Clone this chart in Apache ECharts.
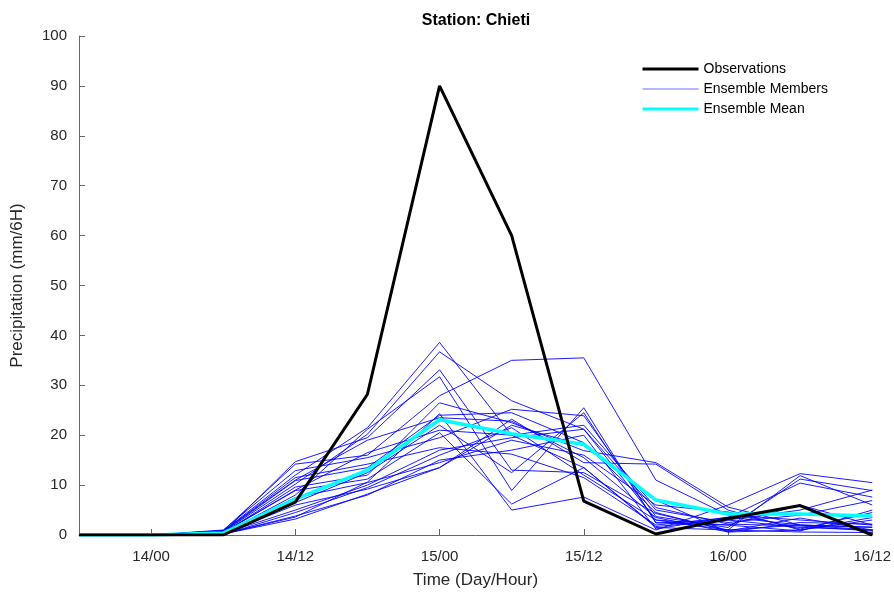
<!DOCTYPE html>
<html>
<head>
<meta charset="utf-8">
<script src="https://cdn.jsdelivr.net/npm/echarts@6/dist/echarts.min.js"></script>
<style>html,body{margin:0;padding:0;background:#fff}#c{width:894px;height:594px}</style>
</head>
<body>
<div id="c"></div>
<script>
const categories = ["13/18","14/00","14/06","14/12","14/18","15/00","15/06","15/12","15/18","16/00","16/06","16/12"];
const yTicks = [0,10,20,30,40,50,60,70,80,90,100];
const observations = [0,0,0,6.6,28.2,90,60,6.8,0.2,3.3,5.9,0];
const ensembleMean = [0,0,0.4,7.2,13,23.1,20.3,18.2,7,4.2,4.2,3.8];
const m01 = [0,0,0.8,12.0,21.5,38.6,20.0,13.5,1.5,1.0,2.0,1.0];
const m02 = [0,0,0.6,10.2,20.2,36.7,26.9,21.2,3.0,2.0,0.8,5.0];
const m03 = [0,0,0.5,14.7,19.5,33.1,13.0,12.5,4.3,1.0,11.9,6.0];
const m04 = [0,0,0.3,8.0,21.2,31.7,8.9,25.5,2.4,3.0,1.5,1.0];
const m05 = [0,0,0.9,14.2,16.0,27.9,35.0,35.5,11.0,4.0,3.0,2.0];
const m06 = [0,0,0.2,3.6,10.6,24.3,5.0,7.6,1.0,6.0,12.3,10.5];
const m07 = [0,0,0.4,9.6,12.0,26.5,22.5,16.9,14.5,5.6,2.0,1.6];
const m08 = [0,0,0.2,3.2,8.2,13.5,23.2,14.5,14.2,5.0,1.0,3.0];
const m09 = [0,0,1.0,12.9,15.5,19.5,25.2,23.9,3.7,1.5,11.2,8.9];
const m10 = [0,0,0.3,5.0,10.0,17.0,19.5,21.2,5.0,2.5,4.0,6.9];
const m11 = [0,0,0.7,11.5,14.2,17.5,16.2,11.5,2.0,3.5,10.4,7.6];
const m12 = [0,0,0.2,6.0,9.2,13.5,22.0,17.9,7.0,0.6,2.5,2.2];
const m13 = [0,0,0.5,8.9,11.2,20.5,6.2,13.5,1.7,3.0,5.0,9.0];
const m14 = [0,0,0.1,4.5,9.5,16.0,21.5,12.0,3.0,1.0,0.6,0.5];
const m15 = [0,0,0.6,10.9,13.5,24.0,24.5,18.5,4.5,0.8,3.4,1.0];
const m16 = [0,0,0.3,7.5,10.5,14.5,19.0,16.0,6.0,4.6,1.2,4.5];
const m17 = [0,0,0.4,6.5,12.5,22.0,12.5,24.5,2.5,2.0,6.0,2.0];
const m18 = [0,0,0.2,3.8,8.0,15.0,17.0,20.0,1.2,3.6,2.0,1.5];
const m19 = [0,0,0.8,11.0,19.0,23.5,22.8,15.5,3.5,0.6,1.0,3.5];
const m20 = [0,0,0.5,9.0,16.5,21.0,20.0,22.0,5.5,2.2,1.8,0.8];
const members = [m01,m02,m03,m04,m05,m06,m07,m08,m09,m10,m11,m12,m13,m14,m15,m16,m17,m18,m19,m20];

const FONT = "'Liberation Sans', Arial, Helvetica, sans-serif";
const chart = echarts.init(document.getElementById('c'), null, {renderer: 'canvas'});

const series = [];
members.forEach(function (m) {
  series.push({
    name: 'Ensemble Members', type: 'line', data: m, symbol: 'none', silent: true,
    lineStyle: {color: '#0000ff', width: 0.9}, itemStyle: {color: '#0000ff'}, animation: false, z: 2
  });
});
series.push({
  name: 'Ensemble Mean', type: 'line', data: ensembleMean, symbol: 'none',
  lineStyle: {color: '#00ffff', width: 3.5}, itemStyle: {color: '#00ffff'}, animation: false, z: 3
});
series.push({
  name: 'Observations', type: 'line', data: observations, symbol: 'none',
  lineStyle: {color: '#000000', width: 3}, itemStyle: {color: '#000000'}, animation: false, z: 4
});

chart.setOption({
  animation: false,
  backgroundColor: '#ffffff',
  title: {
    text: 'Station: Chieti', left: 471, top: 8, textAlign: 'center',
    textStyle: {fontFamily: FONT, fontSize: 16, fontWeight: 'bold', color: '#000'}
  },
  legend: {
    data: [
      {name: 'Observations', lineStyle: {color: '#000000', width: 3}},
      {name: 'Ensemble Members', lineStyle: {color: '#6a6aff', width: 1}},
      {name: 'Ensemble Mean', lineStyle: {color: '#00ffff', width: 3}}
    ],
    orient: 'vertical', left: 636, top: 57, itemGap: 6, itemWidth: 56, itemHeight: 14,
    itemStyle: {opacity: 0},
    textStyle: {fontFamily: FONT, fontSize: 14, color: '#000'},
    backgroundColor: '#fff'
  },
  grid: {left: 79, right: 18, top: 36, bottom: 56, containLabel: false},
  xAxis: {
    type: 'category', data: categories, boundaryGap: false,
    name: 'Time (Day/Hour)', nameLocation: 'middle', nameGap: 37,
    nameTextStyle: {fontFamily: FONT, fontSize: 17, color: '#262626'},
    axisLine: {lineStyle: {color: '#666', width: 1}},
    axisTick: {inside: true, length: 6, lineStyle: {color: '#666'}, interval: function (i) { return i % 2 === 1; }},
    axisLabel: {fontFamily: FONT, fontSize: 15, color: '#262626', margin: 14, interval: function (i) { return i % 2 === 1; }},
    splitLine: {show: false}
  },
  yAxis: {
    type: 'value', min: yTicks[0], max: yTicks[yTicks.length - 1], interval: 10,
    name: 'Precipitation (mm/6H)', nameLocation: 'middle', nameGap: 53,
    nameTextStyle: {fontFamily: FONT, fontSize: 17, color: '#262626'},
    axisLine: {show: true, lineStyle: {color: '#666', width: 1}},
    axisTick: {show: true, inside: true, length: 6, lineStyle: {color: '#666'}},
    axisLabel: {fontFamily: FONT, fontSize: 15, color: '#262626', margin: 12},
    splitLine: {show: false}
  },
  series: series
});
</script>
</body>
</html>
